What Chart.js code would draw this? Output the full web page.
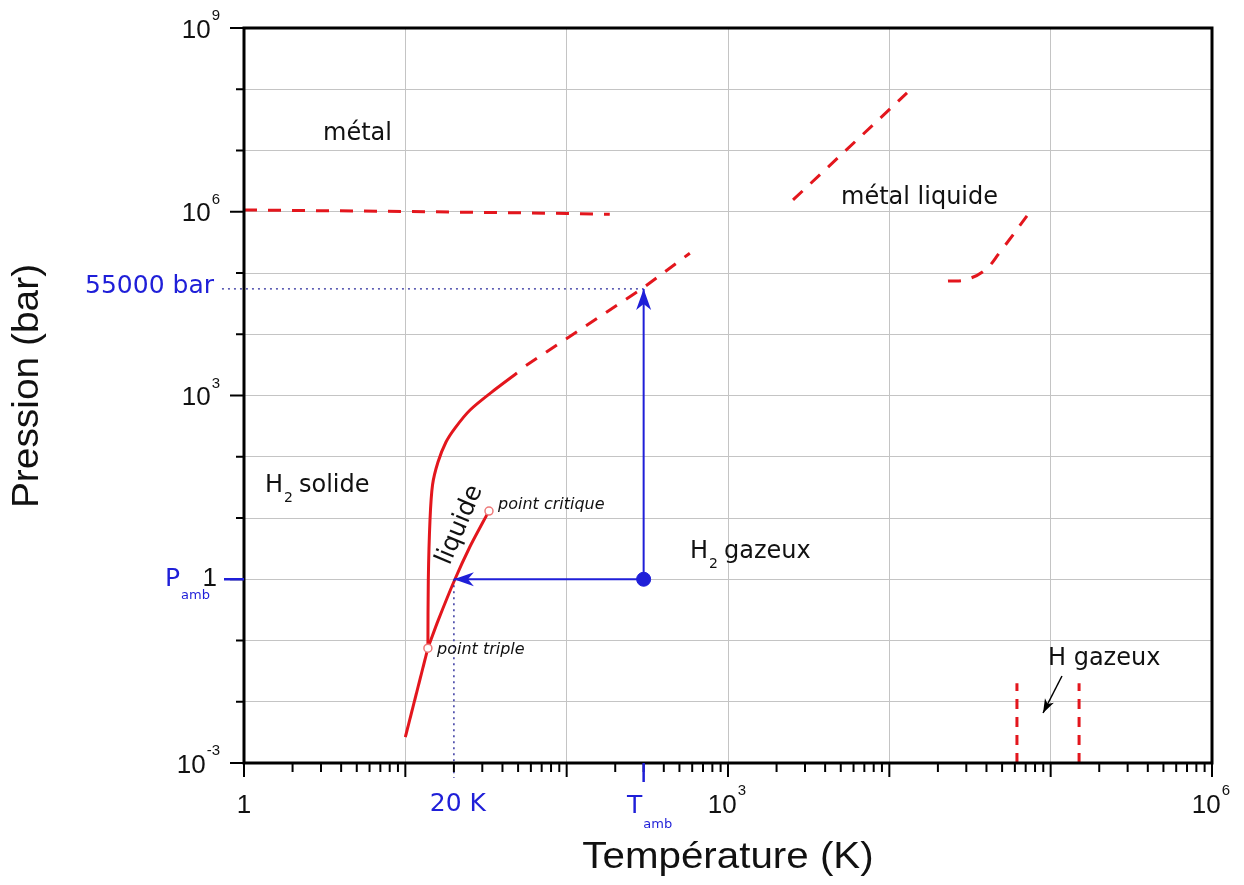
<!DOCTYPE html>
<html><head><meta charset="utf-8">
<script src="https://cdn.jsdelivr.net/npm/chart.js@4.4.0/dist/chart.umd.min.js"></script>
<style>html,body{margin:0;padding:0;background:#fff}canvas{display:block}</style>
</head><body>
<canvas id="c" width="1244" height="885"></canvas>
<script>
// ---- axis ticks ----
const xDecades = [1, 10, 100, 1e3, 1e4, 1e5, 1e6];
const yDecades = [1e-3, 1e-2, 1e-1, 1, 10, 100, 1e3, 1e4, 1e5, 1e6, 1e7, 1e8, 1e9];
const xLabelExps = [0, 3, 6];
const yLabelExps = [-3, 0, 3, 6, 9];

// ---- curves (T in K, P in bar) ----
const sublim_T = [10, 13.8];
const sublim_P = [0.00265, 0.075];
const vapor_T = [13.8, 16, 20.3, 25, 30, 33];
const vapor_P = [0.075, 0.215, 1.0, 3.3, 8.2, 13];
const melt_T = [13.8, 13.88, 14.22, 14.74, 15.94, 17.87, 20.32, 25.2, 37, 49.2];
const melt_P = [0.075, 0.97, 9.3, 34.6, 82, 174, 294, 580, 1325, 2330];
const meltExt_T = [56, 300, 580];
const meltExt_P = [3100, 58000, 210000];
const metal_T = [1, 10, 100, 185];
const metal_P = [1.07e6, 1.01e6, 9.4e5, 9.1e5];
const liqMetalUp_T = [2530, 12870];
const liqMetalUp_P = [1.56e6, 8.7e7];
const liqMetalLow_T = [23100, 29400, 39200, 48500, 71300];
const liqMetalLow_P = [74000, 77000, 112000, 220000, 853000];
const hgas1_T = [61800, 61800];
const hgas2_T = [150000, 150000];
const hgas_P = [0.001, 0.02];
const triple = {T: 13.8, P: 0.075};
const critical = {T: 33, P: 13};

// ---- annotations ----
const T_amb = 300, P_amb = 1, T_boil = 20, P_55 = 55000;
const arrowV_T = [T_amb, T_amb], arrowV_P = [P_amb, P_55];
const arrowH_T = [T_amb, T_boil], arrowH_P = [P_amb, P_amb];
const dot55_T = [0.73, T_amb], dot55_P = [P_55, P_55];
const dot20_T = [T_boil, T_boil], dot20_P = [P_amb, 0.00057];
const hArrow_T = [117500, 89700], hArrow_P = [0.0263, 0.00655];

const RED = '#e3161d', BLUE = '#1f1fd8';
const pts = (T, P) => T.map((t, i) => ({x: t, y: P[i]}));
const DASH = [13, 11];

const datasets = [
  {data: pts([T_amb], [P_amb]), pointRadius: 7, pointBackgroundColor: BLUE, pointBorderColor: BLUE, showLine: false},
  {data: pts([triple.T, critical.T], [triple.P, critical.P]), pointRadius: 4, pointBackgroundColor: '#fff', pointBorderColor: '#ee7a7a', pointBorderWidth: 1.5, showLine: false},
  {data: pts(arrowV_T, arrowV_P), borderColor: BLUE, borderWidth: 2},
  {data: pts(arrowH_T, arrowH_P), borderColor: BLUE, borderWidth: 2},
  {data: pts(dot55_T, dot55_P), borderColor: '#28289a', borderWidth: 1.4, borderDash: [2, 4], clip: false},
  {data: pts(dot20_T, dot20_P), borderColor: '#28289a', borderWidth: 1.4, borderDash: [2, 4], clip: false},
  {data: pts(hArrow_T, hArrow_P), borderColor: '#000', borderWidth: 1.5},
  {data: pts(sublim_T, sublim_P), borderColor: RED, borderWidth: 3},
  {data: pts(vapor_T, vapor_P), borderColor: RED, borderWidth: 3, tension: 0.3},
  {data: pts(melt_T, melt_P), borderColor: RED, borderWidth: 3, tension: 0.3},
  {data: pts(meltExt_T, meltExt_P), borderColor: RED, borderWidth: 3, borderDash: DASH},
  {data: pts(metal_T, metal_P), borderColor: RED, borderWidth: 3, borderDash: DASH},
  {data: pts(liqMetalUp_T, liqMetalUp_P), borderColor: RED, borderWidth: 3, borderDash: DASH},
  {data: pts(liqMetalLow_T, liqMetalLow_P), borderColor: RED, borderWidth: 3, borderDash: DASH, tension: 0.4},
  {data: pts(hgas1_T, hgas_P), borderColor: RED, borderWidth: 3, borderDash: [10, 8]},
  {data: pts(hgas2_T, hgas_P), borderColor: RED, borderWidth: 3, borderDash: [10, 8]},
];
datasets.forEach(d => {
  if (d.showLine === undefined) { d.showLine = true; d.pointRadius = 0; }
  d.fill = false;
});

const TICKF = '"Liberation Sans", Arial, sans-serif';
const ANF = '"DejaVu Sans", sans-serif';

function pow10(ctx, exp, cx, cy, align) {
  ctx.font = '26px ' + TICKF;
  const w1 = ctx.measureText('10').width;
  ctx.font = '15px ' + TICKF;
  const es = String(exp);
  const w2 = ctx.measureText(es).width;
  const total = w1 + w2 + 1;
  let x0 = align === 'right' ? cx - total : cx - total / 2;
  ctx.textAlign = 'left'; ctx.textBaseline = 'alphabetic';
  ctx.font = '26px ' + TICKF;
  ctx.fillText('10', x0, cy + 9.5);
  ctx.font = '15px ' + TICKF;
  ctx.fillText(es, x0 + w1 + 1, cy - 8);
}
function head(ctx, tx, ty, ang, len, hw, notch, color) {
  const c = Math.cos(ang), s = Math.sin(ang);
  const bx = tx - c * len, by = ty - s * len;
  const nx = tx - c * notch, ny = ty - s * notch;
  ctx.beginPath();
  ctx.moveTo(tx, ty);
  ctx.lineTo(bx - s * hw, by + c * hw);
  ctx.lineTo(nx, ny);
  ctx.lineTo(bx + s * hw, by - c * hw);
  ctx.closePath();
  ctx.fillStyle = color; ctx.fill();
}
function sub(ctx, main, subTxt, x, y, f1, f2, dy, color) {
  ctx.fillStyle = color;
  ctx.textAlign = 'left'; ctx.textBaseline = 'alphabetic';
  ctx.font = f1;
  const w = ctx.measureText(main).width;
  ctx.fillText(main, x, y);
  ctx.font = f2;
  ctx.fillText(subTxt, x + w + 1, y + dy);
  return x + w + 1 + ctx.measureText(subTxt).width;
}

const annot = {
  id: 'annot',
  afterDraw(chart) {
    const {ctx, chartArea: a, scales: {x, y}} = chart;
    ctx.save();
    // frame
    ctx.strokeStyle = '#000'; ctx.lineWidth = 3;
    ctx.strokeRect(a.left, a.top, a.right - a.left, a.bottom - a.top);
    // x ticks
    ctx.lineWidth = 2;
    for (let d = 0; d < 6; d++) {
      for (let m = 2; m <= 9; m++) {
        const px = x.getPixelForValue(m * Math.pow(10, d));
        ctx.beginPath(); ctx.moveTo(px, a.bottom); ctx.lineTo(px, a.bottom + 9); ctx.stroke();
      }
    }
    xDecades.forEach(v => {
      const px = x.getPixelForValue(v);
      ctx.beginPath(); ctx.moveTo(px, a.bottom); ctx.lineTo(px, a.bottom + 14); ctx.stroke();
    });
    // y ticks
    yDecades.forEach(v => {
      const py = y.getPixelForValue(v);
      const labeled = yLabelExps.includes(Math.round(Math.log10(v)));
      ctx.beginPath(); ctx.moveTo(a.left - (labeled ? 14 : 8), py); ctx.lineTo(a.left, py); ctx.stroke();
    });
    // blue ticks
    ctx.strokeStyle = BLUE; ctx.lineWidth = 2.5;
    let px = x.getPixelForValue(T_amb);
    ctx.beginPath(); ctx.moveTo(px, a.bottom); ctx.lineTo(px, a.bottom + 19); ctx.stroke();
    let py = y.getPixelForValue(P_amb);
    ctx.beginPath(); ctx.moveTo(a.left - 20, py); ctx.lineTo(a.left, py); ctx.stroke();

    // tick labels
    ctx.fillStyle = '#111';
    yLabelExps.forEach(e => {
      const py = y.getPixelForValue(Math.pow(10, e));
      if (e === 0) {
        ctx.font = '26px ' + TICKF; ctx.textAlign = 'right'; ctx.textBaseline = 'alphabetic';
        ctx.fillText('1', 217, py + 7);
      } else pow10(ctx, e, 220, py, 'right');
    });
    xLabelExps.forEach(e => {
      const px = x.getPixelForValue(Math.pow(10, e));
      if (e === 0) {
        ctx.font = '26px ' + TICKF; ctx.textAlign = 'center'; ctx.textBaseline = 'alphabetic';
        ctx.fillText('1', px, 813);
      } else pow10(ctx, e, px - 1, 803, 'center');
    });

    // axis titles
    ctx.fillStyle = '#111';
    ctx.font = '36px ' + TICKF; ctx.textAlign = 'center'; ctx.textBaseline = 'middle';
    ctx.save(); ctx.translate(728, 858); ctx.scale(1.12, 1); ctx.fillText('Température (K)', 0, 0); ctx.restore();
    ctx.save(); ctx.translate(28, 386); ctx.rotate(-Math.PI / 2); ctx.scale(1.08, 1); ctx.fillText('Pression (bar)', 0, 0); ctx.restore();

    // blue labels
    ctx.fillStyle = BLUE;
    ctx.font = '25px ' + ANF; ctx.textAlign = 'right'; ctx.textBaseline = 'middle';
    ctx.fillText('55000 bar', 214, y.getPixelForValue(P_55) - 2);
    ctx.textAlign = 'center';
    ctx.fillText('20 K', x.getPixelForValue(T_boil) + 4, 804);
    sub(ctx, 'T', 'amb', 627, 813, '25px ' + ANF, '13px ' + ANF, 15, BLUE);
    sub(ctx, 'P', 'amb', 165, 586, '25px ' + ANF, '13px ' + ANF, 13, BLUE);

    // arrowheads
    head(ctx, x.getPixelForValue(arrowV_T[1]), y.getPixelForValue(arrowV_P[1]), -Math.PI / 2, 21, 7.5, 15, BLUE);
    head(ctx, x.getPixelForValue(arrowH_T[1]), y.getPixelForValue(arrowH_P[1]), Math.PI, 20, 7, 14, BLUE);
    {
      const x1 = x.getPixelForValue(hArrow_T[0]), y1 = y.getPixelForValue(hArrow_P[0]);
      const x2 = x.getPixelForValue(hArrow_T[1]), y2 = y.getPixelForValue(hArrow_P[1]);
      head(ctx, x2, y2, Math.atan2(y2 - y1, x2 - x1), 14, 5, 10, '#000');
    }

    // region labels
    ctx.fillStyle = '#111';
    ctx.textAlign = 'left'; ctx.textBaseline = 'alphabetic';
    ctx.font = '24px ' + ANF;
    ctx.fillText('métal', 323, 140);
    ctx.fillText('métal liquide', 841, 204);
    ctx.fillText('H gazeux', 1048, 665);
    let e1 = sub(ctx, 'H', '2', 265, 492, '24px ' + ANF, '14px ' + ANF, 10, '#111');
    ctx.font = '24px ' + ANF; ctx.fillText('solide', e1 + 6, 492);
    let e2 = sub(ctx, 'H', '2', 690, 558, '24px ' + ANF, '14px ' + ANF, 10, '#111');
    ctx.font = '24px ' + ANF; ctx.fillText('gazeux', e2 + 6, 558);
    ctx.font = 'italic 16px ' + ANF; ctx.textBaseline = 'middle';
    ctx.fillText('point critique', 498, 505);
    ctx.fillText('point triple', 437, 650);
    ctx.save(); ctx.translate(460, 525); ctx.rotate(-67 * Math.PI / 180);
    ctx.font = '25px ' + ANF; ctx.textAlign = 'center'; ctx.textBaseline = 'middle';
    ctx.fillText('liquide', 0, 0); ctx.restore();
    ctx.restore();
  }
};

const gridOpts = {color: '#c4c4c4', lineWidth: 1, drawTicks: false};
new Chart(document.getElementById('c'), {
  type: 'scatter',
  data: {datasets},
  options: {
    responsive: false, animation: false,
    layout: {padding: {left: 244, right: 32, top: 28, bottom: 122}},
    plugins: {legend: {display: false}, tooltip: {enabled: false}},
    scales: {
      x: {type: 'logarithmic', min: 1, max: 1e6, ticks: {display: false}, grid: gridOpts, border: {display: false},
          afterBuildTicks: s => { s.ticks = xDecades.map(v => ({value: v})); }},
      y: {type: 'logarithmic', min: 1e-3, max: 1e9, ticks: {display: false}, grid: gridOpts, border: {display: false},
          afterBuildTicks: s => { s.ticks = yDecades.map(v => ({value: v})); }}
    }
  },
  plugins: [annot]
});
</script>
</body></html>
